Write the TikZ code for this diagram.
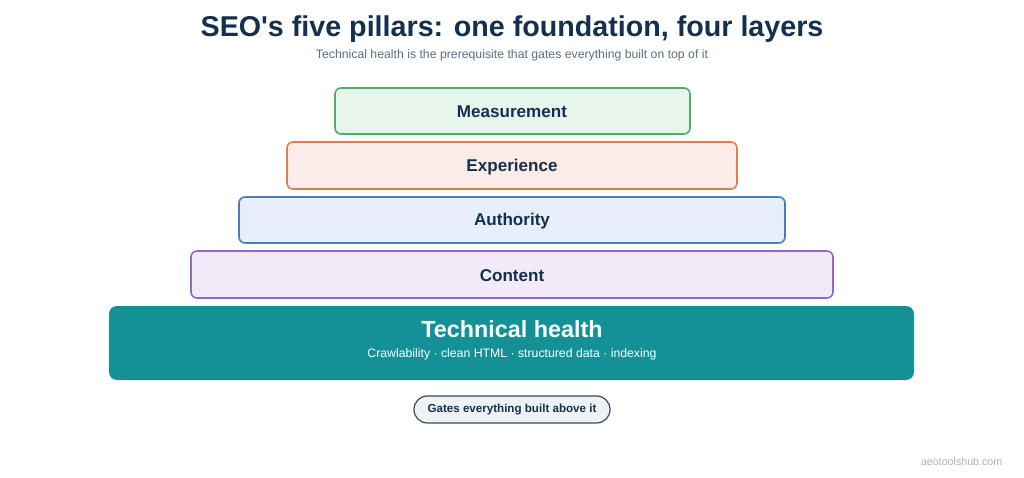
\documentclass[tikz,border=0pt]{standalone}
\usepackage{fontspec}
\setmainfont{Liberation Sans}
\definecolor{navy}{HTML}{14304F}
\definecolor{sub}{HTML}{5E6E80}
\definecolor{gB}{HTML}{4CAF6E}\definecolor{gF}{HTML}{E8F5EC}
\definecolor{oB}{HTML}{E07B55}\definecolor{oF}{HTML}{FBECE7}
\definecolor{bB}{HTML}{4A7CC4}\definecolor{bF}{HTML}{E6EEF9}
\definecolor{pB}{HTML}{9A63C8}\definecolor{pF}{HTML}{F1EAF8}
\definecolor{teal}{HTML}{139196}
\definecolor{pillF}{HTML}{EEF2F5}\definecolor{pillB}{HTML}{34495E}
\begin{document}
\begin{tikzpicture}[x=0.75pt,y=-0.75pt,
 layer/.style={rounded corners=4.5pt,line width=1.2pt,font=\bfseries\fontsize{12.8}{14}\selectfont,text=navy}]
\useasboundingbox (0,0) rectangle (1024,478);
\fill[white] (0,0) rectangle (1024,478);
\node[font=\bfseries\fontsize{21.5}{24}\selectfont,text=navy] (title) at (512,29) {SEO\textquotesingle s five pillars: one foundation, four layers};
\node[font=\fontsize{9.2}{11}\selectfont,text=sub] (subt) at (512,55) {Technical health is the prerequisite that gates everything built on top of it};
\draw[layer,draw=gB,fill=gF] (335,88) rectangle (690,134);
\node[layer] (m) at (512,112) {Measurement};
\draw[layer,draw=oB,fill=oF] (287,142) rectangle (737,189);
\node[layer] (e) at (512,167) {Experience};
\draw[layer,draw=bB,fill=bF] (239,197) rectangle (785,243);
\node[layer] (a) at (512,221) {Authority};
\draw[layer,draw=pB,fill=pF] (191,251) rectangle (833,298);
\node[layer] (c) at (512,276) {Content};
\fill[teal,rounded corners=6pt] (109,306) rectangle (914,380);
\node[font=\bfseries\fontsize{17.5}{20}\selectfont,text=white] (t) at (512,329) {Technical health};
\node[font=\fontsize{9.2}{11}\selectfont,text=white] (ts) at (512,354) {Crawlability · clean HTML · structured data · indexing};
\draw[fill=pillF,draw=pillB,line width=0.9pt,rounded corners=10pt] (414,396) rectangle (610,423);
\node[font=\bfseries\fontsize{8.7}{10}\selectfont,text=navy] (g) at (512,410) {Gates everything built above it};
\node[font=\fontsize{8}{10}\selectfont,text=gray!60,anchor=east] (w) at (1007,462) {aeotoolshub.com};
\end{tikzpicture}
\end{document}
